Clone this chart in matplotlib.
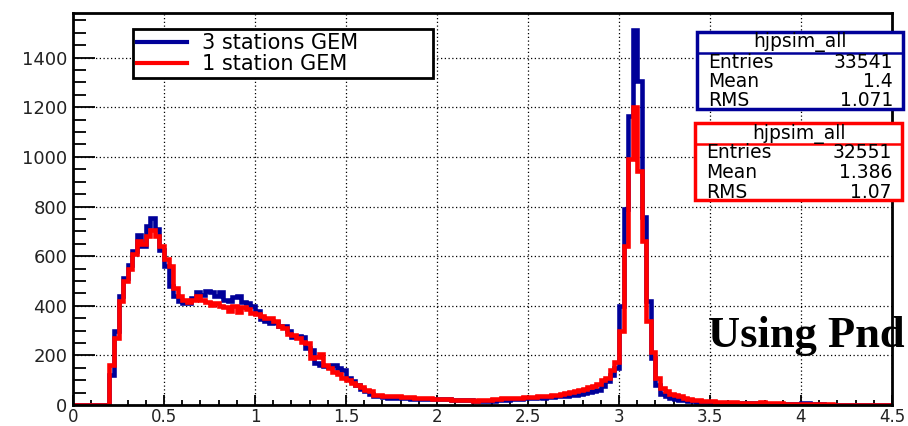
import matplotlib.pyplot as plt
import numpy as np
from matplotlib.patches import Rectangle
from matplotlib.lines import Line2D
from matplotlib.ticker import MultipleLocator
# ==============================================================================
# binning of hjpsim_all : 180 bins of 0.025 from 0 to 4.5
x_min, x_max, n_bins = 0.0, 4.5, 180

# bin contents, "3 stations GEM"
counts_3st = [
    0, 0, 0, 0, 0, 0, 0, 0,
    120, 300, 440, 510, 565, 620, 685, 640, 720, 755,
    710, 625, 560, 480, 440, 420, 410, 410, 430, 455,
    445, 460, 455, 440, 455, 425, 420, 436, 440, 415,
    413, 400, 380, 345, 340, 330, 335, 320, 320, 300,
    275, 280, 273, 230, 220, 170, 160, 158, 155, 160,
    150, 140, 110, 95, 80, 65, 55, 45, 38, 35,
    32, 30, 30, 28, 28, 27, 26, 25, 25, 24,
    24, 23, 24, 25, 24, 22, 20, 20, 22, 20,
    18, 18, 16, 16, 18, 20, 20, 22, 24, 25,
    26, 28, 30, 30, 32, 30, 32, 33, 35, 36,
    38, 40, 42, 45, 50, 52, 55, 60, 75, 95,
    120, 150, 400, 790, 1165, 1510, 1306, 757, 420, 190,
    80, 45, 35, 30, 25, 22, 20, 18, 15, 14,
    12, 12, 10, 10, 10, 9, 9, 8, 8, 8,
    7, 7, 6, 6, 6, 5, 5, 5, 5, 4,
    4, 4, 10, 8, 3, 3, 3, 2, 2, 2,
    2, 2, 2, 1, 1, 1, 1, 1, 0, 0, 0, 0 ]

# bin contents, "1 station GEM"
counts_1st = [
    0, 0, 0, 0, 0, 0, 0, 0,
    160, 270, 420, 500, 550, 610, 660, 650, 680, 705,
    680, 640, 590, 560, 470, 440, 425, 415, 425, 440,
    425, 415, 405, 410, 400, 395, 380, 400, 375, 395,
    385, 370, 365, 360, 350, 350, 340, 320, 310, 285,
    282, 270, 255, 250, 190, 195, 205, 160, 150, 135,
    125, 110, 100, 90, 80, 72, 60, 55, 42, 40,
    38, 36, 35, 35, 33, 32, 32, 30, 30, 28,
    28, 26, 25, 24, 24, 22, 22, 20, 20, 20,
    18, 20, 20, 22, 24, 26, 28, 28, 30, 30,
    30, 32, 32, 34, 35, 36, 38, 40, 42, 45,
    48, 52, 58, 62, 66, 72, 78, 85, 100, 110,
    140, 175, 300, 640, 990, 1200, 945, 663, 340, 215,
    107, 67, 55, 45, 40, 35, 30, 25, 22, 20,
    18, 16, 15, 14, 13, 12, 12, 11, 10, 10,
    10, 9, 9, 12, 8, 8, 7, 7, 6, 6,
    5, 5, 5, 4, 4, 3, 3, 3, 3, 2,
    2, 2, 2, 2, 1, 1, 1, 1, 1, 0, 0, 0 ]

labels = [ "3 stations GEM", "1 station GEM" ]
stat_title = "hjpsim_all"
stat_entries = [ "33541", "32551" ]
stat_mean = [ "1.4", "1.386" ]
stat_rms = [ "1.071", "1.07" ]

x_ticks = [ 0, 0.5, 1, 1.5, 2, 2.5, 3, 3.5, 4, 4.5 ]
x_tick_labels = [ "0", "0.5", "1", "1.5", "2", "2.5", "3", "3.5", "4", "4.5" ]
y_ticks = [ 0, 200, 400, 600, 800, 1000, 1200, 1400 ]
y_tick_labels = [ "0", "200", "400", "600", "800", "1000", "1200", "1400" ]
y_max = 1580
# ==============================================================================
assert len(counts_3st) == n_bins and len(counts_1st) == n_bins

c_blue = "#000099"
c_red = "#ff0000"
W, H = 908, 426

def fx(px):
    return px / W

def fy(py):
    # pixel rows are counted from the top of the picture
    return 1 - py / H

fig = plt.figure(figsize=(W / 100, H / 100), dpi=100)
ax = fig.add_axes([fx(73), fy(405), fx(892 - 73), (405 - 13) / H])

edges = np.linspace(x_min, x_max, n_bins + 1)
ax.stairs(counts_3st, edges, baseline=0, color=c_blue, linewidth=3.3, zorder=3)
ax.stairs(counts_1st, edges, baseline=0, color=c_red, linewidth=3.3, zorder=4)

ax.set_xlim(x_min, x_max)
ax.set_ylim(0, y_max)
ax.set_xticks(x_ticks, x_tick_labels)
ax.set_yticks(y_ticks, y_tick_labels)
ax.xaxis.set_minor_locator(MultipleLocator(0.1))
ax.yaxis.set_minor_locator(MultipleLocator(50))

ax.tick_params(which="both", direction="in", top=False, right=False,
               labelcolor="#222222", width=1.3)
ax.tick_params(axis="x", which="major", length=7, pad=2, labelsize=12)
ax.tick_params(axis="x", which="minor", length=3.5)
ax.tick_params(axis="y", which="major", length=16, pad=4, labelsize=13)
ax.tick_params(axis="y", which="minor", length=9)

ax.grid(True, which="major", color="black", linestyle=(0, (1, 2)), linewidth=0.9)
ax.set_axisbelow(True)
for sp in ax.spines.values():
    sp.set_linewidth(2)
    sp.set_zorder(5)

# legend box, stretched to the width of the original
handles = [ Line2D([], [], color=c_blue, linewidth=3),
            Line2D([], [], color=c_red, linewidth=3) ]
leg = ax.legend(handles, labels, loc="upper left",
                bbox_to_anchor=(fx(133), fy(77), fx(300), 48 / H),
                bbox_transform=fig.transFigure, mode="expand", borderaxespad=0,
                fontsize=15, handlelength=2.4, handletextpad=0.7,
                labelspacing=0.05, borderpad=0.2, fancybox=False,
                framealpha=1, edgecolor="black")
leg.get_frame().set_linewidth(2)
leg.set_zorder(6)

# ROOT style statistics boxes
def stat_box(x0, y0, w, color, entries, mean, rms):
    h = 77
    fig.add_artist(Rectangle((fx(x0), fy(y0 + h)), fx(w), h / H,
                             transform=fig.transFigure, facecolor="white",
                             edgecolor=color, linewidth=2.5, zorder=7))
    fig.add_artist(Line2D([fx(x0), fx(x0 + w)], [fy(y0 + 21), fy(y0 + 21)],
                          transform=fig.transFigure, color=color,
                          linewidth=1.8, zorder=8))
    fig.text(fx(x0 + w / 2), fy(y0 + 10.5), stat_title, ha="center",
             va="center", fontsize=13.5, zorder=9)
    rows = [ ("Entries", entries), ("Mean", mean), ("RMS", rms) ]
    for k, (name, val) in enumerate(rows):
        yy = fy(y0 + 30 + k * 19.5)
        fig.text(fx(x0 + 11), yy, name, ha="left", va="center", fontsize=13.5,
                 zorder=9)
        fig.text(fx(x0 + w - 10), yy, val, ha="right", va="center",
                 fontsize=13.5, zorder=9)

stat_box(697, 32, 206, c_blue, stat_entries[0], stat_mean[0], stat_rms[0])
stat_box(695, 123, 207, c_red, stat_entries[1], stat_mean[1], stat_rms[1])

fig.text(fx(708), fy(347), "Using Pnd", family="Liberation Serif",
         fontweight="bold", fontsize=32, ha="left", va="baseline", zorder=10)

fig.savefig("out.png", dpi=100)
